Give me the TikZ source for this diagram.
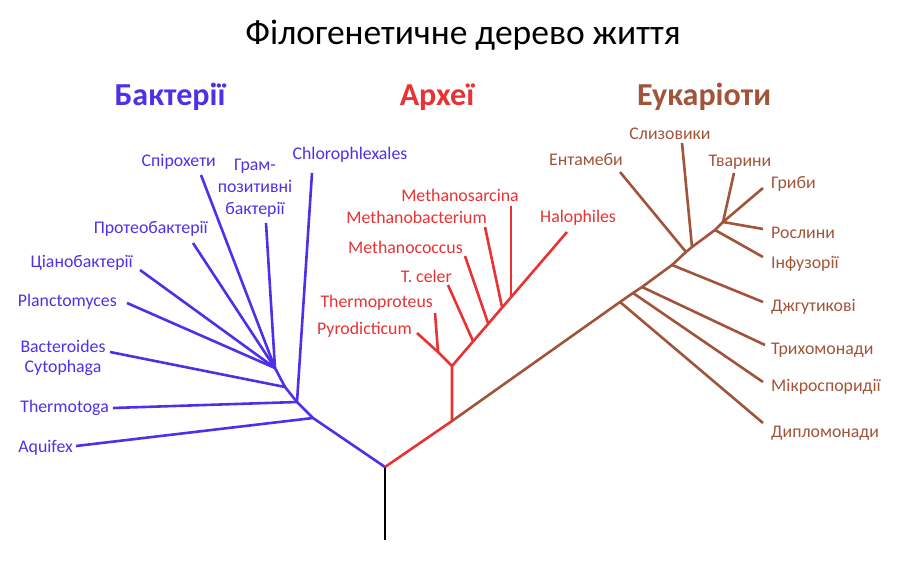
\documentclass[tikz,border=0pt]{standalone}
\usepackage{fontspec}
\setmainfont{Carlito}
\usepackage{tikz}
\usetikzlibrary{positioning}
\definecolor{bactblue}{RGB}{78,48,232}
\definecolor{archred}{RGB}{232,50,52}
\definecolor{eukbrown}{RGB}{160,84,58}

\begin{document}
\begin{tikzpicture}[
    x=1pt, y=-1pt,
    branch/.style={line width=2.6pt, line join=round},
    leaf/.style={font=\fontsize{17.8}{20}\selectfont, inner sep=0pt},
    groupname/.style={font=\fontsize{32}{34}\selectfont\bfseries, inner sep=0pt}
]
    \useasboundingbox (0,0) rectangle (900,580);
    \node[font=\fontsize{35.5}{38}\selectfont, inner sep=0pt] (title) at (463,35) {Філогенетичне дерево життя};
    \node[groupname, text=bactblue] (bacteria) at (170,97) {Бактерії};
    \node[groupname, text=archred] (archaea) at (437,97) {Археї};
    \node[groupname, text=eukbrown] (eukarya) at (704,97) {Еукаріоти};

    % root and junctions
    \coordinate (base) at (385,540);
    \coordinate (root) at (385,467);
    \coordinate (bA) at (313,418);
    \coordinate (bT) at (297,402);
    \coordinate (bB) at (285,387);
    \coordinate (bC) at (275,368);
    \coordinate (aR) at (452,421);
    \coordinate (aN) at (452,366);
    \coordinate (aP) at (438,352);
    \coordinate (aT) at (473,341);
    \coordinate (aMc) at (488,323);
    \coordinate (aMb) at (502,307);
    \coordinate (aMs) at (511,297);
    \coordinate (e1) at (620,302);
    \coordinate (e2) at (633,293);
    \coordinate (e3) at (642,287);
    \coordinate (e4) at (672,265);
    \coordinate (e5) at (686,252);
    \coordinate (e6) at (692,247);
    \coordinate (e7) at (715,230);
    \coordinate (e8) at (723,222);

    % bacteria
    \node[leaf, text=bactblue, anchor=east] (aquifex) at (73,448) {Aquifex};
    \node[leaf, text=bactblue, anchor=east] (thermotoga) at (109,408) {Thermotoga};
    \node[leaf, text=bactblue, align=center, font=\fontsize{17.8}{19.5}\selectfont] (bacteroides) at (63,358) {Bacteroides\\Cytophaga};
    \node[leaf, text=bactblue, anchor=east] (plancto) at (117,302) {Planctomyces};
    \node[leaf, text=bactblue, anchor=east] (cyano) at (133,263) {Ціанобактерії};
    \node[leaf, text=bactblue, anchor=east] (proteo) at (208,229) {Протеобактерії};
    \node[leaf, text=bactblue, anchor=east] (spiro) at (216,162) {Спірохети};
    \node[leaf, text=bactblue, align=center, font=\fontsize{17.8}{22}\selectfont] (gram) at (255,188) {Грам-\\позитивні\\бактерії};
    \node[leaf, text=bactblue] (chloro) at (350,155) {Chlorophlexales};

    \coordinate (aquifexend) at (76,446);
    \coordinate (thermotogaend) at (113,408);
    \coordinate (bacteroidesend) at (110,352);
    \coordinate (planctoend) at (127,303);
    \coordinate (cyanoend) at (140,270);
    \coordinate (proteoend) at (193,243);
    \coordinate (spiroend) at (201,175);
    \coordinate (gramend) at (266,223);
    \coordinate (chloroend) at (312,173);

    % archaea
    \node[leaf, text=archred] (sarcina) at (460,195) {Methanosarcina};
    \node[leaf, text=archred, anchor=east] (mbact) at (487,217) {Methanobacterium};
    \node[leaf, text=archred, anchor=east] (mcoccus) at (463,247) {Methanococcus};
    \node[leaf, text=archred, anchor=east] (tceler) at (452,276) {T. celer};
    \node[leaf, text=archred, anchor=east] (tproteus) at (433,303) {Thermoproteus};
    \node[leaf, text=archred, anchor=east] (pyro) at (412,330) {Pyrodicticum};
    \node[leaf, text=archred, anchor=west] (halo) at (540,218) {Halophiles};

    \coordinate (sarcinaend) at (511,206);
    \coordinate (mbactend) at (485,227);
    \coordinate (mcoccusend) at (465,256);
    \coordinate (tcelerend) at (448,285);
    \coordinate (tproteusend) at (435,313);
    \coordinate (pyroend) at (417,333);
    \coordinate (haloend) at (567,232);

    % eukaryotes
    \node[leaf, text=eukbrown] (slime) at (670,134) {Слизовики};
    \node[leaf, text=eukbrown] (entamoeba) at (586,160) {Ентамеби};
    \node[leaf, text=eukbrown] (animals) at (740,162) {Тварини};
    \node[leaf, text=eukbrown, anchor=west] (fungi) at (771,184) {Гриби};
    \node[leaf, text=eukbrown, anchor=west] (plants) at (771,233) {Рослини};
    \node[leaf, text=eukbrown, anchor=west] (ciliates) at (771,264) {Інфузорії};
    \node[leaf, text=eukbrown, anchor=west] (flagell) at (771,307) {Джгутикові};
    \node[leaf, text=eukbrown, anchor=west] (tricho) at (771,350) {Трихомонади};
    \node[leaf, text=eukbrown, anchor=west] (micro) at (771,387) {Мікроспоридії};
    \node[leaf, text=eukbrown, anchor=west] (diplo) at (771,433) {Дипломонади};

    \coordinate (slimeend) at (682,143);
    \coordinate (entamoebaend) at (620,172);
    \coordinate (animalsend) at (734,173);
    \coordinate (fungiend) at (763,188);
    \coordinate (plantsend) at (763,229);
    \coordinate (ciliatesend) at (763,257);
    \coordinate (flagellend) at (763,302);
    \coordinate (trichoend) at (765,345);
    \coordinate (microend) at (763,382);
    \coordinate (diploend) at (763,423);

    % branches
    \draw[branch] (base) -- (root);
    \draw[branch, bactblue] (root) -- (bA) -- (bT) -- (bB) -- (bC);
    \draw[branch, bactblue] (aquifexend) -- (bA);
    \draw[branch, bactblue] (thermotogaend) -- (bT);
    \draw[branch, bactblue] (chloroend) -- (bT);
    \draw[branch, bactblue] (bacteroidesend) -- (bB);
    \foreach \t in {planctoend, cyanoend, proteoend, spiroend, gramend}
        \draw[branch, bactblue] (\t) -- (bC);

    \draw[branch, archred] (root) -- (aR) -- (aN) -- (haloend);
    \draw[branch, archred] (pyroend) -- (aP) -- (aN);
    \draw[branch, archred] (tproteusend) -- (aP);
    \draw[branch, archred] (tcelerend) -- (aT);
    \draw[branch, archred] (mcoccusend) -- (aMc);
    \draw[branch, archred] (mbactend) -- (aMb);
    \draw[branch, archred] (sarcinaend) -- (aMs);

    \draw[branch, eukbrown] (aR) -- (e1) -- (e2) -- (e3) -- (e4) -- (e5) -- (e6) -- (e7) -- (e8);
    \draw[branch, eukbrown] (diploend) -- (e1);
    \draw[branch, eukbrown] (microend) -- (e2);
    \draw[branch, eukbrown] (trichoend) -- (e3);
    \draw[branch, eukbrown] (flagellend) -- (e4);
    \draw[branch, eukbrown] (entamoebaend) -- (e5);
    \draw[branch, eukbrown] (slimeend) -- (e6);
    \draw[branch, eukbrown] (ciliatesend) -- (e7);
    \foreach \t in {plantsend, fungiend, animalsend}
        \draw[branch, eukbrown] (\t) -- (e8);
\end{tikzpicture}
\end{document}
